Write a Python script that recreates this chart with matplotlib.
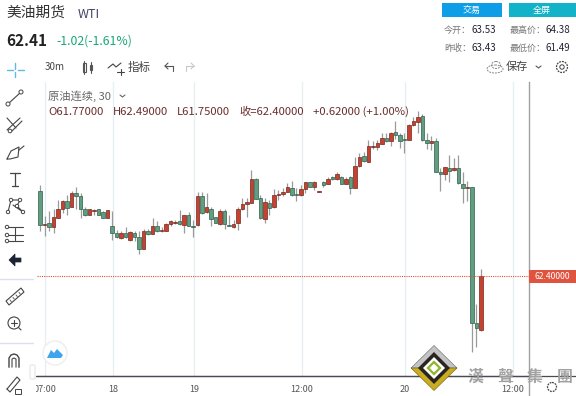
import matplotlib
matplotlib.use('agg')
import matplotlib.pyplot as plt
from matplotlib.patches import Circle, Polygon, Rectangle, Ellipse, FancyBboxPatch

plt.rcParams['font.family'] = ['Noto Sans CJK SC', 'DejaVu Sans']

# candles, oldest first
opens = [63.41, 63.01, 63.03, 62.98, 63.09, 63.20, 63.29, 63.22, 63.38, 63.35,
         63.20, 63.13, 63.17, 63.19, 63.16, 63.09, 63.00, 62.91, 62.85, 62.91,
         62.83, 62.91, 62.86, 62.72, 62.93, 62.90, 62.99, 62.94, 62.94, 63.02,
         63.03, 63.05, 63.01, 63.12, 63.00, 63.01, 63.35, 63.16, 63.20, 63.10,
         63.02, 63.17, 63.01, 62.98, 63.03, 63.19, 63.25, 63.27, 63.55, 63.32,
         63.08, 63.27, 63.22, 63.36, 63.37, 63.40, 63.44, 63.37, 63.36, 63.43,
         63.51, 63.46, 63.40, 63.51, 63.49, 63.57, 63.55, 63.57, 63.49, 63.57,
         63.44, 63.70, 63.82, 63.75, 63.93, 63.93, 63.96, 64.03, 64.00, 64.11,
         64.07, 64.02, 64.01, 64.19, 64.22, 64.29, 64.01, 63.98, 64.00, 63.63,
         63.61, 63.68, 63.66, 63.68, 63.49, 63.44, 63.45, 61.85, 61.77]
highs = [63.48, 63.11, 63.17, 63.20, 63.30, 63.30, 63.36, 63.41, 63.46, 63.38,
         63.22, 63.20, 63.19, 63.19, 63.17, 63.18, 63.17, 62.95, 62.93, 62.98,
         62.94, 62.94, 62.93, 62.96, 62.96, 63.09, 63.05, 62.98, 63.03, 63.07,
         63.06, 63.18, 63.13, 63.16, 63.07, 63.40, 63.40, 63.39, 63.22, 63.10,
         63.19, 63.19, 63.13, 63.07, 63.22, 63.32, 63.32, 63.66, 63.56, 63.36,
         63.32, 63.30, 63.43, 63.42, 63.44, 63.50, 63.53, 63.44, 63.48, 63.52,
         63.52, 63.53, 63.41, 63.53, 63.57, 63.59, 63.63, 63.59, 63.57, 63.58,
         63.81, 63.86, 63.87, 64.01, 64.00, 64.01, 64.09, 64.09, 64.11, 64.24,
         64.10, 64.10, 64.20, 64.28, 64.35, 64.32, 64.09, 64.06, 64.03, 63.68,
         63.69, 63.83, 63.80, 63.83, 63.63, 63.53, 63.45, 62.07, 62.49]
lows = [62.94, 62.88, 62.94, 62.91, 63.09, 63.15, 63.13, 63.22, 63.20, 63.09,
        63.11, 63.13, 63.13, 63.13, 63.09, 63.09, 62.83, 62.85, 62.84, 62.85,
        62.82, 62.82, 62.66, 62.72, 62.89, 62.90, 62.92, 62.92, 62.94, 63.00,
        63.02, 63.01, 62.91, 62.99, 62.86, 63.00, 63.14, 63.15, 62.99, 63.03,
        63.01, 62.96, 62.99, 62.97, 62.95, 63.18, 63.10, 63.27, 63.31, 63.08,
        63.03, 63.12, 63.21, 63.30, 63.35, 63.40, 63.35, 63.29, 63.35, 63.38,
        63.46, 63.42, 63.40, 63.46, 63.49, 63.54, 63.54, 63.49, 63.49, 63.37,
        63.44, 63.69, 63.75, 63.75, 63.90, 63.89, 63.96, 63.99, 63.94, 64.02,
        63.92, 63.86, 64.01, 64.18, 64.10, 64.00, 63.90, 63.89, 63.63, 63.41,
        63.54, 63.52, 63.65, 63.49, 63.27, 63.29, 61.51, 61.57, 61.75]
closes = [63.01, 63.02, 62.98, 63.10, 63.20, 63.29, 63.21, 63.38, 63.35, 63.19,
          63.13, 63.19, 63.18, 63.13, 63.09, 63.18, 62.91, 62.87, 62.91, 62.86,
          62.92, 62.86, 62.72, 62.93, 62.90, 62.99, 62.94, 62.95, 63.02, 63.05,
          63.04, 63.02, 63.12, 63.00, 62.98, 63.35, 63.15, 63.22, 63.08, 63.03,
          63.17, 63.02, 63.00, 63.02, 63.19, 63.25, 63.28, 63.55, 63.31, 63.09,
          63.28, 63.21, 63.36, 63.37, 63.40, 63.45, 63.36, 63.36, 63.43, 63.52,
          63.46, 63.51, 63.41, 63.48, 63.55, 63.55, 63.61, 63.49, 63.55, 63.44,
          63.70, 63.81, 63.76, 63.94, 63.94, 63.97, 64.03, 64.00, 64.10, 64.07,
          64.00, 64.01, 64.19, 64.24, 64.28, 64.01, 63.98, 64.00, 63.63, 63.61,
          63.69, 63.65, 63.68, 63.50, 63.44, 63.45, 61.85, 61.79, 62.40]

grid_pos = [1.1, 16.2, 34.2, 58.2, 81.1, 105.1]
grid_labels = ['07:00', '18', '19', '12:00', '20', '12:00']
last_price = 62.40

W, H = 576, 396
RED = '#c8412f'
GREEN = '#5f9f80'
fig = plt.figure(figsize=(W / 100, H / 100), dpi=100, facecolor='white')

# main chart, placed by pixel
left, right, top, bottom = 36.5, 529, 82, 376.3
ax = fig.add_axes([left / W, 1 - bottom / H, (right - left) / W, (bottom - top) / H])
ax.set_xlim(-0.78, 108.67)
ax.set_ylim(61.218, 64.697)
for pos in grid_pos:
    ax.axvline(pos, color='#e6eef2', lw=0.9, zorder=0)

for i in range(len(opens)):
    up = closes[i] >= opens[i]
    ax.vlines(i, lows[i], highs[i], color='#9a9a9a', lw=0.9, zorder=2)
    base = min(opens[i], closes[i])
    height = max(abs(closes[i] - opens[i]), 0.012)
    ax.bar(i, height, bottom=base, width=0.72, color=RED if up else GREEN,
           edgecolor='#6e2a20' if up else '#2f5f4a', linewidth=0.5, zorder=3)

ax.axhline(last_price, color='#e2503c', lw=0.8, ls=(0, (1, 1)), zorder=4)
ax.set_yticks([])
ax.set_xticks(grid_pos)
ax.set_xticklabels(grid_labels, fontsize=6.5, color='#555555')
ax.tick_params(axis='x', length=0, pad=6.5)
for name in ['top', 'left']:
    ax.spines[name].set_visible(False)
ax.spines['right'].set_color('#a0a0a0')
ax.spines['right'].set_linewidth(1.0)
ax.spines['bottom'].set_color('#4a4a55')
ax.spines['bottom'].set_linewidth(0.9)

# page furniture in pixel coordinates
ui = fig.add_axes([0, 0, 1, 1], facecolor='none')
ui.set_xlim(0, W)
ui.set_ylim(H, 0)
ui.axis('off')


def txt(x, y, s, size=7, color='#333333', **kw):
    kw.setdefault('va', 'center')
    return ui.text(x, y, s, fontsize=size, color=color, **kw)


def line(xs, ys, color='#444444', lw=0.8):
    ui.plot(xs, ys, color=color, lw=lw, solid_capstyle='round')


# left strip hides the first label
ui.add_patch(Rectangle((0, 376.8), 36, 19, fc='white', ec='none', zorder=1))
line([36, W], [376.3, 376.3], '#4a4a55', 0.9)
line([529, 529], [376, 396], '#a0a0a0', 1.0)
ui.add_patch(Rectangle((529, 270), 47, 13, fc='#e0533f', ec='none'))
txt(552.5, 276.5, '62.40000', 6.2, 'white', ha='center')

# header
txt(6, 13, '美油期货', 10.6, '#333333')
txt(78, 14, 'WTI', 9, '#444466')
txt(6, 41, '62.41', 11, '#222222', fontweight='bold')
txt(56, 41.5, '-1.02(-1.61%)', 8.8, '#1aa578')
ui.add_patch(Rectangle((442, 3), 60, 14, fc='#0e9ee8', ec='none'))
ui.add_patch(Rectangle((509, 3), 67, 14, fc='#12b2c8', ec='none'))
txt(472, 10, '交易', 6.5, 'white', ha='center')
txt(542, 10, '全屏', 6.5, 'white', ha='center')
txt(444, 30, '今开：', 6.5, '#777777')
txt(471, 30, '63.53', 7, '#222233')
txt(510, 30, '最高价：', 6.5, '#777777')
txt(546, 30, '64.38', 7, '#222233')
txt(444, 48, '昨收：', 6.5, '#777777')
txt(471, 48, '63.43', 7, '#222233')
txt(510, 48, '最低价：', 6.5, '#777777')
txt(546, 48, '61.49', 7, '#222233')

# top toolbar
txt(45, 67, '30m', 7, '#444444')
ui.add_patch(Rectangle((82.5, 63), 3.5, 9, fc='none', ec='#555555', lw=0.8))
ui.add_patch(Rectangle((89.5, 65), 2.5, 5, fc='none', ec='#555555', lw=0.8))
line([84.2, 84.2], [61, 74], '#555555')
line([90.8, 90.8], [62, 73], '#555555')
line([108, 113, 116, 121], [68, 64, 67, 63], '#444444')
line([117, 124], [72, 72], '#444444')
line([120.5, 120.5], [69, 75], '#444444')
txt(128, 67, '指标', 8.3, '#444444')
line([165, 173, 173], [66, 66, 71], '#555555')
line([165, 168], [66, 63], '#555555')
line([165, 168], [66, 69], '#555555')
line([194, 186, 186], [66, 66, 71], '#c8c8c8')
line([194, 191], [66, 63], '#c8c8c8')
line([194, 191], [66, 69], '#c8c8c8')
ui.add_patch(Ellipse((495, 69), 16, 8, fc='none', ec='#888888', lw=0.7, ls=(0, (2, 1))))
ui.add_patch(Ellipse((496, 65), 9, 7, fc='none', ec='#888888', lw=0.7, ls=(0, (2, 1))))
txt(506, 67, '保存', 8, '#444444')
line([536, 538.5, 541], [66, 68, 66], '#555555')
ui.add_patch(Circle((562, 67), 5.5, fc='none', ec='#444444', lw=0.9, ls=(0, (1.5, 0.8))))
ui.add_patch(Circle((562, 67), 2.2, fc='none', ec='#444444', lw=0.7))

# legend
txt(48, 96, '原油连续, 30', 8.1, '#666666')
line([120, 122.5, 125], [95, 97, 95], '#666666')
LEG = '#6b2e2e'
txt(48, 112, 'O61.77000', 8.1, LEG)
txt(113, 112, 'H62.49000', 8.1, LEG)
txt(177, 112, 'L61.75000', 8.1, LEG)
txt(239, 112, '收=62.40000', 8.1, LEG)
txt(313, 112, '+0.62000 (+1.00%)', 8.1, LEG)

# left toolbar
line([15, 15], [63, 68.5], '#5fb8ea', 1.0)
line([15, 15], [71.5, 77], '#5fb8ea', 1.0)
line([7, 12.5], [70, 70], '#5fb8ea', 1.0)
line([17.5, 24], [70, 70], '#5fb8ea', 1.0)
line([8, 21], [104, 92], '#444444')
ui.add_patch(Circle((8, 104), 2, fc='white', ec='#444444', lw=0.7, zorder=3))
ui.add_patch(Circle((21, 92), 2, fc='white', ec='#444444', lw=0.7, zorder=3))
line([7, 16], [118, 128], '#444444')
line([7, 20], [130, 118], '#444444')
line([12, 22], [131, 121], '#444444')
ui.add_patch(Circle((10, 131), 1.8, fc='white', ec='#444444', lw=0.7, zorder=3))
line([7, 11, 19, 18, 10, 7], [159, 151, 147, 157, 159, 159], '#444444')
line([19, 24], [150, 146], '#444444')
line([10, 20], [173, 173], '#444444', 0.9)
line([15, 15], [173, 186], '#444444', 0.9)
line([12, 18], [186, 186], '#444444', 0.9)
pat_x = [8, 11, 20, 17, 23, 13]
pat_y = [212, 200, 200, 206, 212, 205]
line(pat_x, pat_y, '#444444')
for x, y in zip(pat_x[:5], pat_y[:5]):
    ui.add_patch(Circle((x, y), 1.7, fc='white', ec='#444444', lw=0.7, zorder=3))
for y in [227, 235, 241]:
    line([8, 23], [y, y], '#444444')
    ui.add_patch(Circle((7, y), 1.7, fc='white', ec='#444444', lw=0.7, zorder=3))
line([15, 15], [228, 240], '#444444')
ui.add_patch(Polygon([[9, 260], [15, 254], [15, 258], [21, 258], [21, 262], [15, 262], [15, 266]],
                     fc='#1c2433', ec='#1c2433', lw=0.5))
line([0, 33], [278.5, 278.5], '#dde0ea', 1.0)
ui.add_patch(Polygon([[6, 301], [21, 288], [24, 292], [9, 305]], fc='none', ec='#444444', lw=0.8))
for x, y in zip([10, 13, 16, 19], [300, 297.5, 295, 292.5]):
    line([x, x + 1.3], [y, y + 1.5], '#444444', 0.6)
ui.add_patch(Circle((14, 323), 6, fc='none', ec='#444444', lw=0.8))
line([18.5, 21], [327.5, 330], '#444444')
line([11, 17], [323, 323], '#444444')
line([14, 14], [320, 326], '#444444')
line([0, 33], [342.5, 342.5], '#dde0ea', 1.0)
ui.plot([9, 9, 11, 14, 17, 19, 19], [367, 358, 355, 354, 355, 358, 367], color='#444444', lw=1.0)
ui.plot([12, 12, 14, 16, 16], [367, 359, 358, 359, 367], color='#444444', lw=0.8)
line([7, 10, 20, 17, 7], [389, 392, 380, 377, 389], '#444444')
ui.add_patch(Rectangle((15, 389), 6, 5, fc='white', ec='#444444', lw=0.7, zorder=3))
ui.add_patch(FancyBboxPatch((31, 366), 3, 12, boxstyle='round,pad=1', fc='white', ec='#e2e2e2', lw=0.7))
ui.add_patch(Circle((55, 353), 12, fc='white', ec='#eeeeee', lw=1.0))
ui.add_patch(Polygon([[47, 358], [51, 350], [54, 353], [57, 349], [63, 355], [61, 358]],
                     fc='#3ea4ee', ec='none', zorder=3))

# watermark
cx, cy = 434, 368
ui.add_patch(Polygon([[cx - 23, cy], [cx, cy - 22.5], [cx + 23, cy]], fc='#c4c4c4', ec='#666666', lw=0.4, zorder=5))
ui.add_patch(Polygon([[cx - 23, cy], [cx, cy + 22.5], [cx + 23, cy]], fc='#c9ac1f', ec='#6e5d10', lw=0.4, zorder=5))
ui.add_patch(Polygon([[cx - 16, cy], [cx, cy - 16], [cx + 16, cy], [cx, cy + 16]], fc='#2a2520', ec='none', zorder=6))
ui.add_patch(Polygon([[cx - 11, cy], [cx, cy - 11], [cx + 11, cy], [cx, cy + 11]], fc='white', ec='none', zorder=7))
ui.add_patch(Polygon([[cx - 6, cy], [cx, cy - 6], [cx + 6, cy], [cx, cy + 6]], fc='white', ec='#8db52a', lw=1.6, zorder=8))
for x, ch in zip([475, 505, 535, 565], '漢聲集團'):
    ui.text(x, 377, ch, fontsize=11.5, color='#a2a2a2', ha='center', va='center',
            family=['Noto Sans CJK TC', 'DejaVu Sans'], fontweight='bold', zorder=9)
ui.add_patch(Circle((552, 387), 4.5, fc='none', ec='#444444', lw=0.9, ls=(0, (1.5, 0.8)), zorder=9))

fig.savefig('out.png', dpi=100)
